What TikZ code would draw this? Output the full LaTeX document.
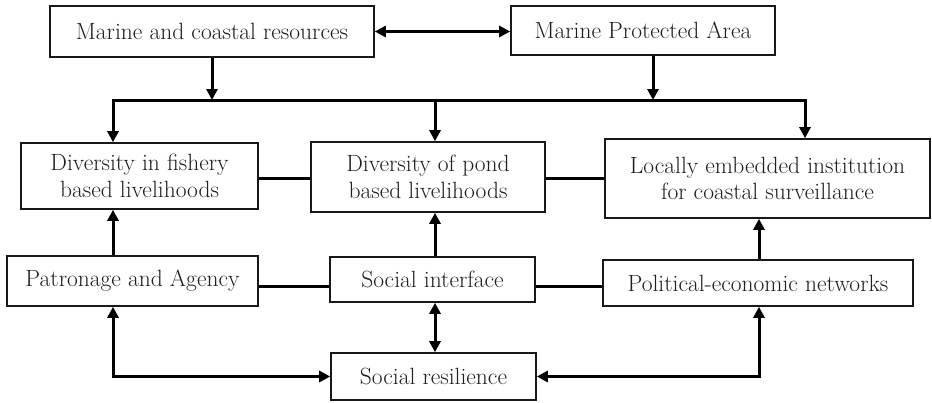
\documentclass[tikz,border=0pt]{standalone}
\usetikzlibrary{arrows.meta}
\begin{document}
\begin{tikzpicture}[x=1pt,y=-1pt,
  box/.style={draw=black!90, line width=1.6pt, fill=white, inner sep=0pt, align=center,
    font=\fontsize{23.5}{26.5}\selectfont, text=black!88},
  conn/.style={line width=3pt, black},
  arr/.style={conn,-{Triangle[length=11pt,width=11pt]}},
  darr/.style={conn,{Triangle[length=11pt,width=11pt]}-{Triangle[length=11pt,width=11pt]}}]
\useasboundingbox (0,0) rectangle (932,402);
\node[box, minimum width=324pt, minimum height=51pt] (mcr) at (212,31.5) {Marine and coastal resources};
\node[box, minimum width=264pt, minimum height=49pt] (mpa) at (643,30.5) {Marine Protected Area};
\node[box, minimum width=237pt, minimum height=66pt] (fish) at (139.5,176) {Diversity in fishery\\based livelihoods};
\node[box, minimum width=234pt, minimum height=70pt] (pond) at (428,177) {Diversity of pond\\based livelihoods};
\node[box, minimum width=325pt, minimum height=79pt] (local) at (767.5,178.5) {Locally embedded institution\\for coastal surveillance};
\node[box, minimum width=251pt, minimum height=50pt] (patr) at (132.5,281) {Patronage and Agency};
\node[box, minimum width=205pt, minimum height=45pt] (sint) at (432.5,279.5) {Social interface};
\node[box, minimum width=310pt, minimum height=46pt] (pol) at (758,283) {Political-economic networks};
\node[box, minimum width=205pt, minimum height=47pt] (res) at (433.5,376.5) {Social resilience};

\coordinate (bus1) at (113,100);
\coordinate (bus2) at (805,100);
\coordinate (bus3) at (435,100);
\coordinate (c1) at (113,0);
\coordinate (c2) at (435,0);
\coordinate (c3) at (759,0);
\coordinate (r1) at (0,178);
\coordinate (r2) at (0,286);
\coordinate (m2) at (653,0);

% top
\draw[darr] (mcr.east) -- (mcr.east -| mpa.west);
\draw[arr] (mcr.south) -- (mcr.south |- bus1);
\draw[arr] (mpa.south -| m2) -- (bus1 -| m2);
\draw[darr, line join=miter] (bus1 |- fish.north) -- (bus1) -- (bus2) -- (bus2 |- local.north);
\draw[arr] (bus3) -- (bus3 |- pond.north);

% middle rows
\draw[conn] (fish.east |- r1) -- (pond.west |- r1);
\draw[conn] (pond.east |- r1) -- (local.west |- r1);
\draw[conn] (patr.east |- r2) -- (sint.west |- r2);
\draw[conn] (sint.east |- r2) -- (pol.west |- r2);

\draw[arr] (patr.north -| c1) -- (fish.south -| c1);
\draw[arr] (sint.north -| c2) -- (pond.south -| c2);
\draw[arr] (pol.north -| c3) -- (local.south -| c3);

% bottom
\draw[darr] (sint.south -| c2) -- (res.north -| c2);
\draw[darr, line join=miter] (patr.south -| c1) -- (c1 |- res.west) -- (res.west);
\draw[darr, line join=miter] (res.east) -- (c3 |- res.east) -- (pol.south -| c3);
\end{tikzpicture}
\end{document}
